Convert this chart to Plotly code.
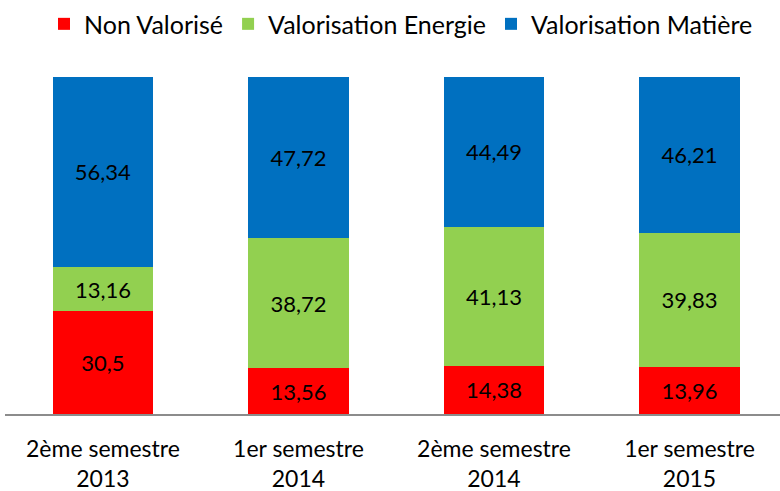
import plotly.graph_objects as go

categories = ["2ème semestre<br>2013", "1er semestre<br>2014", "2ème semestre<br>2014", "1er semestre<br>2015"]
non_valorise = [30.5, 13.56, 14.38, 13.96]
valorisation_energie = [13.16, 38.72, 41.13, 39.83]
valorisation_matiere = [56.34, 47.72, 44.49, 46.21]

series = [
    ("Non Valorisé", non_valorise, "#FF0000"),
    ("Valorisation Energie", valorisation_energie, "#92D050"),
    ("Valorisation Matière", valorisation_matiere, "#0070C0"),
]

FONT = "Lato"

def fmt(v):
    return ("%g" % v).replace(".", ",")

fig = go.Figure()
for name, vals, color in series:
    fig.add_trace(go.Bar(
        name=name,
        x=list(range(len(categories))),
        y=vals,
        marker=dict(color=color, line=dict(width=0)),
        width=0.512,
        text=[fmt(v) for v in vals],
        textposition="inside",
        insidetextanchor="middle",
        textangle=0,
        textfont=dict(family=FONT, size=22, color="#000000"),
        hoverinfo="skip",
    ))

fig.update_layout(
    barmode="stack",
    width=780,
    height=491,
    margin=dict(l=5, r=0, t=77, b=77, autoexpand=False),
    paper_bgcolor="white",
    plot_bgcolor="white",
    font=dict(family=FONT, color="#000000"),
    uniformtext=dict(minsize=22, mode="show"),
    showlegend=True,
    legend=dict(
        orientation="h",
        x=0.511, xanchor="center",
        y=1.157, yanchor="middle",
        font=dict(family=FONT, size=25, color="#000000"),
        traceorder="normal",
        itemwidth=30,
    ),
    xaxis=dict(
        range=[-0.501, 3.463],
        tickmode="array",
        tickvals=list(range(len(categories))),
        ticktext=categories,
        tickfont=dict(family=FONT, size=23, color="#000000"),
        ticklabelstandoff=13,
        automargin=False,
        showline=True,
        linecolor="#8C8C8C",
        linewidth=2,
        ticks="",
        showgrid=False,
        zeroline=False,
        fixedrange=True,
    ),
    yaxis=dict(
        range=[0, 100],
        visible=False,
        showgrid=False,
        zeroline=False,
        fixedrange=True,
        automargin=False,
    ),
)

fig.write_html(
    "out.html",
    config={"displayModeBar": False},
    post_script="document.body.style.margin='0';document.body.style.padding='0';document.body.style.overflow='hidden';",
)
